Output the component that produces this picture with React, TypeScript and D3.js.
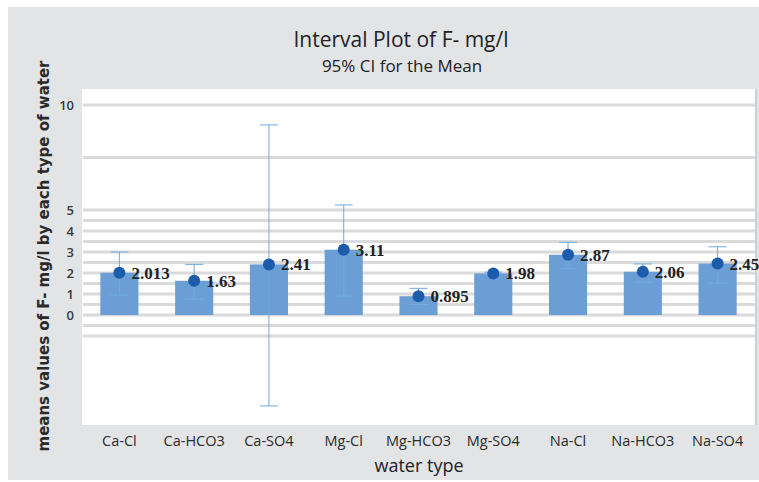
import React from "react";
import * as d3 from "d3";

const categories = ["Ca-Cl", "Ca-HCO3", "Ca-SO4", "Mg-Cl", "Mg-HCO3", "Mg-SO4", "Na-Cl", "Na-HCO3", "Na-SO4"];
const means = [2.013, 1.63, 2.41, 3.11, 0.895, 1.98, 2.87, 2.06, 2.45];
const meanLabels = ["2.013", "1.63", "2.41", "3.11", "0.895", "1.98", "2.87", "2.06", "2.45"];
const ciLow = [0.95, 0.75, -4.33, 0.9, 0.5, 1.92, 2.22, 1.57, 1.51];
const ciHigh = [3.0, 2.41, 9.05, 5.24, 1.27, 2.04, 3.46, 2.43, 3.25];
const yTicks = [0, 1, 2, 3, 4, 5, 10];
const gridValues = [-1, -0.5, 0, 0.5, 1, 1.5, 2, 2.5, 3, 3.5, 4, 4.5, 5, 7.5, 10];

export default function App() {
  const W = 759, H = 482;
  const plot = { left: 82, right: 755, top: 89, bottom: 425 };
  const x = d3.scaleBand<string>().domain(categories).range([plot.left, plot.right]).paddingInner(0.49).paddingOuter(0.245);
  const y = d3.scaleLinear().domain([-5.238, 10.762]).range([plot.bottom, plot.top]);
  const cx = (c: string) => (x(c) as number) + x.bandwidth() / 2;
  const sans = "'Open Sans', 'Noto Sans', sans-serif";
  return (
    <svg width={W} height={H} style={{ position: "absolute", left: 0, top: 0 }}>
      <rect x={8} y={7} width={W - 8} height={H - 9} fill="#e3e4e6" />
      <rect x={plot.left} y={plot.top} width={plot.right - plot.left} height={plot.bottom - plot.top} fill="#ffffff" />
      <line x1={plot.right + 1} x2={plot.right + 1} y1={plot.top} y2={plot.bottom} stroke="#cfd0d2" strokeWidth={2} />
      {gridValues.map((g) => (
        <line key={g} x1={plot.left + 1} x2={plot.right} y1={y(g)} y2={y(g)} stroke="#d9dadb" strokeWidth={3} />
      ))}
      {categories.map((c, i) => (
        <rect key={"b" + c} x={x(c)} y={y(means[i])} width={x.bandwidth()} height={y(0) - y(means[i])} fill="#6c9ed6" />
      ))}
      {categories.map((c, i) => (
        <g key={"e" + c} stroke="#6eaae2" strokeWidth={1}>
          <line x1={cx(c)} x2={cx(c)} y1={y(ciLow[i])} y2={y(ciHigh[i])} />
          <line x1={cx(c) - 9} x2={cx(c) + 9} y1={y(ciLow[i])} y2={y(ciLow[i])} />
          <line x1={cx(c) - 9} x2={cx(c) + 9} y1={y(ciHigh[i])} y2={y(ciHigh[i])} />
        </g>
      ))}
      {categories.map((c, i) => (
        <circle key={"p" + c} cx={cx(c)} cy={y(means[i])} r={6} fill="#1d5bab" />
      ))}
      {categories.map((c, i) => (
        <text key={"l" + c} x={cx(c) + 12} y={y(means[i]) + 6} fontFamily="'Liberation Serif', 'Times New Roman', serif" fontWeight="bold" fontSize={17} fill="#222">
          {meanLabels[i]}
        </text>
      ))}
      {yTicks.map((t) => (
        <text key={"t" + t} x={74} y={y(t) + 5} textAnchor="end" fontFamily={sans} fontSize={13} fontWeight={600} fill="#3a3a3a">
          {t}
        </text>
      ))}
      {categories.map((c) => (
        <text key={"x" + c} x={cx(c)} y={446} textAnchor="middle" fontFamily={sans} fontSize={14.5} fill="#2a2a2a">
          {c}
        </text>
      ))}
      <text x={401} y={47} textAnchor="middle" fontFamily={sans} fontSize={21} fill="#222">Interval Plot of F- mg/l</text>
      <text x={402} y={72} textAnchor="middle" fontFamily={sans} fontSize={17} fill="#222">95% CI for the Mean</text>
      <text x={419} y={472} textAnchor="middle" fontFamily={sans} fontSize={18} fill="#222">water type</text>
      <text transform={`translate(49,256) rotate(-90)`} textAnchor="middle" fontFamily="'DejaVu Sans', Verdana, sans-serif" fontWeight="bold" fontSize={15} fill="#2a2a2a">
        means values of F- mg/l by each type of water
      </text>
    </svg>
  );
}
